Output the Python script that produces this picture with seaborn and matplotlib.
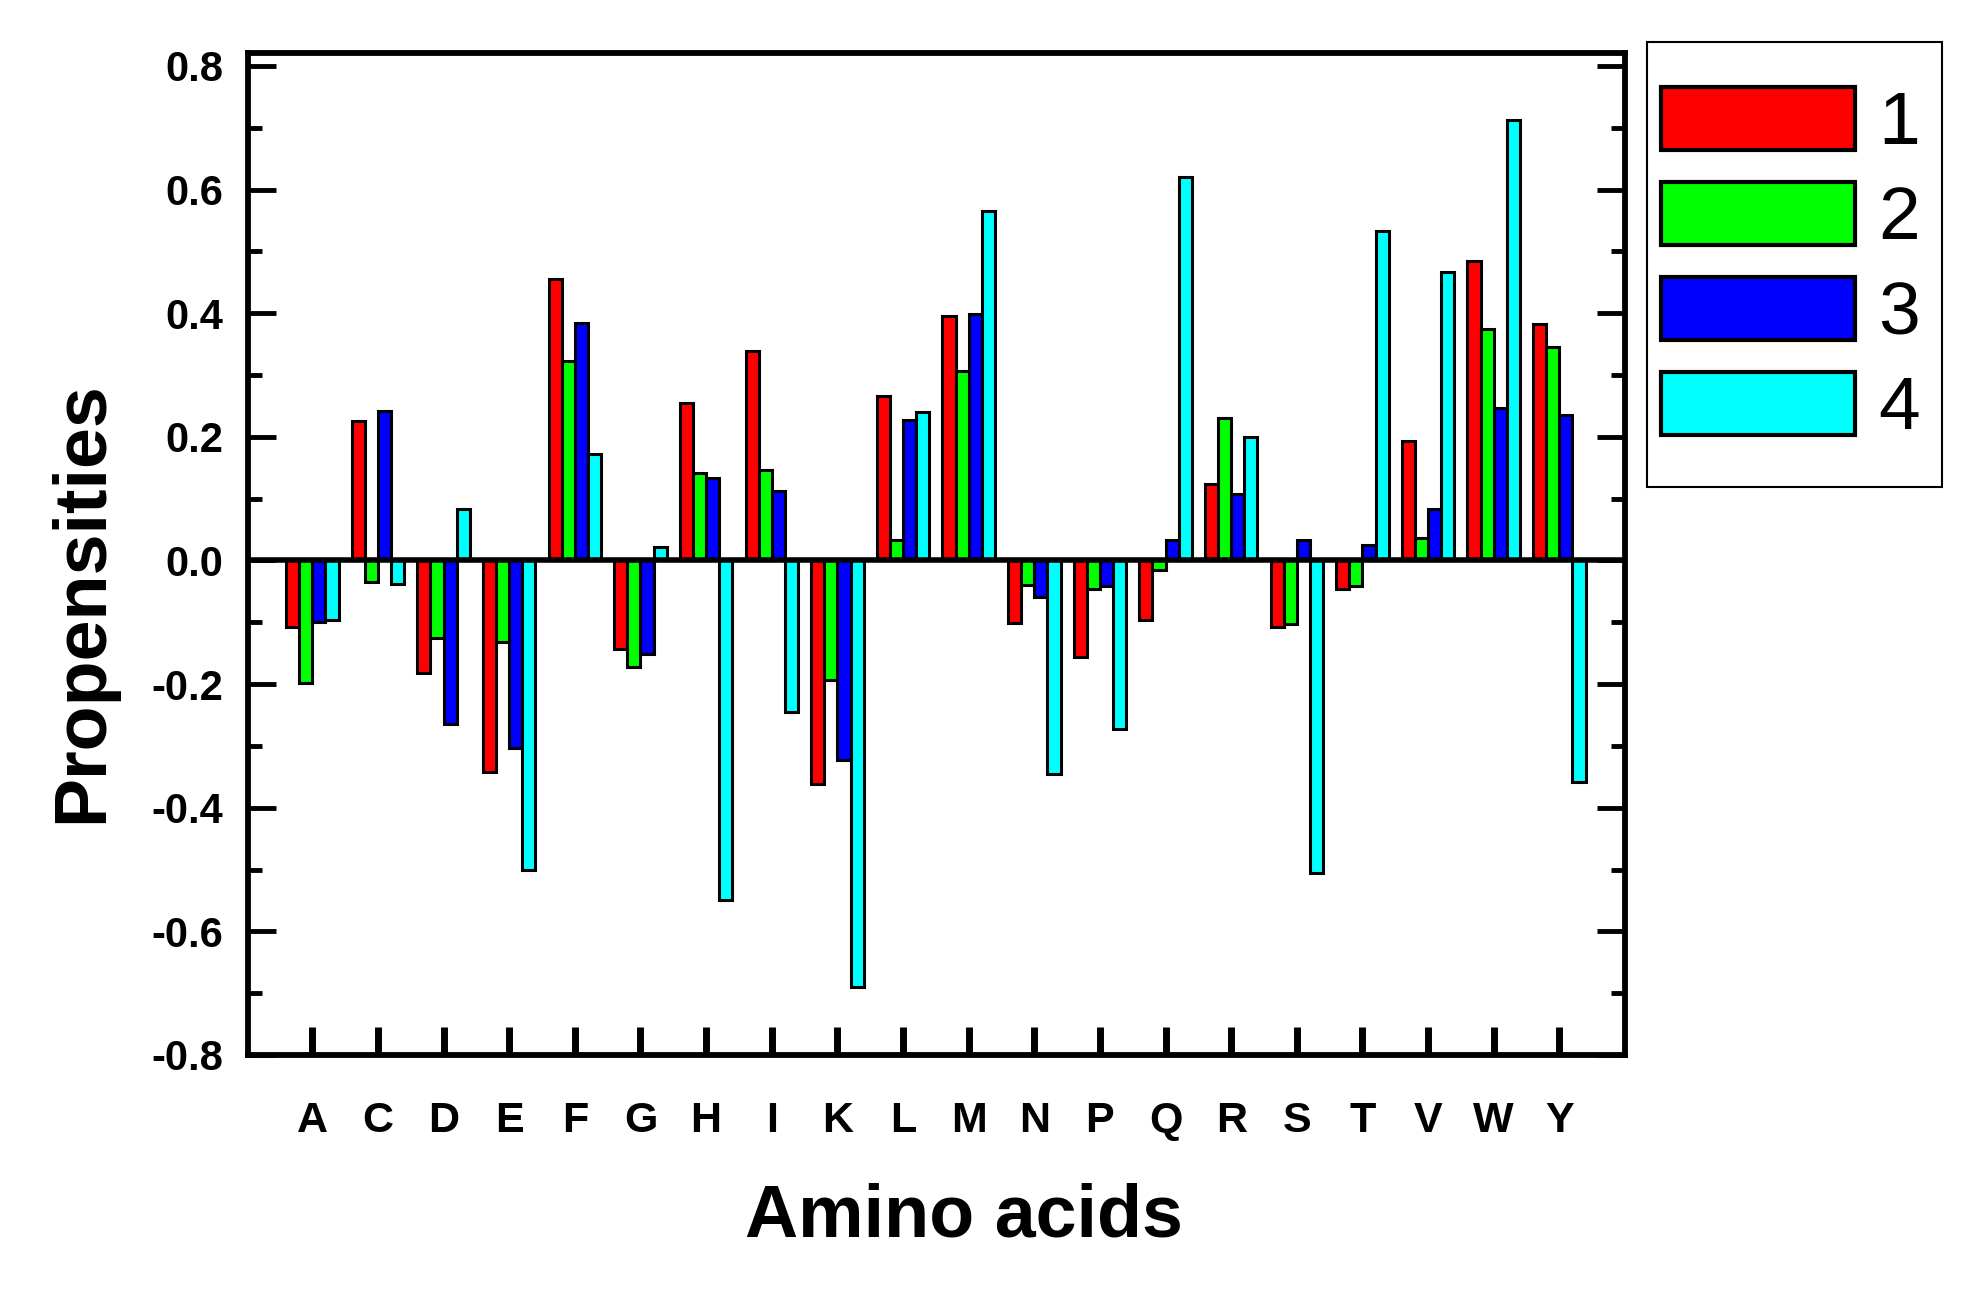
import numpy as np
import pandas as pd
import matplotlib
matplotlib.use("Agg")
import matplotlib.pyplot as plt
from matplotlib.patches import Rectangle
from matplotlib.ticker import MultipleLocator
import seaborn as sns

amino_acids = ["A", "C", "D", "E", "F", "G", "H", "I", "K", "L",
               "M", "N", "P", "Q", "R", "S", "T", "V", "W", "Y"]
series_names = ["1", "2", "3", "4"]
series1 = [-0.108, 0.226, -0.182, -0.342, 0.455, -0.143, 0.255, 0.339, -0.362, 0.266,
           0.395, -0.101, -0.156, -0.096, 0.124, -0.108, -0.046, 0.193, 0.484, 0.383]
series2 = [-0.199, -0.034, -0.125, -0.132, 0.323, -0.173, 0.142, 0.147, -0.194, 0.033,
           0.307, -0.040, -0.046, -0.016, 0.230, -0.103, -0.041, 0.037, 0.374, 0.345]
series3 = [-0.100, 0.242, -0.264, -0.303, 0.385, -0.152, 0.134, 0.113, -0.323, 0.228,
           0.398, -0.059, -0.041, 0.033, 0.108, 0.033, 0.025, 0.084, 0.247, 0.235]
series4 = [-0.096, -0.038, 0.083, -0.500, 0.172, 0.022, -0.550, -0.245, -0.690, 0.241,
           0.565, -0.345, -0.272, 0.621, 0.199, -0.506, 0.533, 0.466, 0.713, -0.358]
colors = ["#FF0000", "#00FF00", "#0000FF", "#00FFFF"]
y_ticks = [-0.8, -0.6, -0.4, -0.2, 0.0, 0.2, 0.4, 0.6, 0.8]
y_tick_labels = ["-0.8", "-0.6", "-0.4", "-0.2", "0.0", "0.2", "0.4", "0.6", "0.8"]
x_title = "Amino acids"
y_title = "Propensities"

plt.rcParams['font.family'] = ['Liberation Sans', 'DejaVu Sans']
plt.rcParams['axes.unicode_minus'] = False

rows = []
for name, vals in zip(series_names, [series1, series2, series3, series4]):
    for aa, v in zip(amino_acids, vals):
        rows.append({"aa": aa, "series": name, "value": v})
df = pd.DataFrame(rows)

W, H = 1977, 1302
fig = plt.figure(figsize=(W / 100, H / 100), dpi=100)
left, right, top, bottom = 248, 1625, 53, 1055
ax = fig.add_axes([left / W, 1 - bottom / H, (right - left) / W, (bottom - top) / H])

sns.barplot(data=df, x="aa", y="value", hue="series", order=amino_acids,
            hue_order=series_names, palette=colors, saturation=1, width=0.8,
            edgecolor="black", linewidth=2.2, errorbar=None, ax=ax)

ax.axhline(0, color="black", lw=4, zorder=5)
ax.set_xlim(-0.98, 20)
ax.set_ylim(-0.8, 0.821)

for s in ax.spines.values():
    s.set_linewidth(4.2)
    s.set_color("black")

ax.set_yticks(y_ticks)
ax.set_yticklabels(y_tick_labels, fontsize=30, fontweight="bold")
ax.yaxis.set_minor_locator(MultipleLocator(0.1))
ax.tick_params(axis="y", which="major", direction="in", length=20, width=3.5,
               left=True, right=True, pad=18)
ax.tick_params(axis="y", which="minor", direction="in", length=10, width=3.5,
               left=True, right=True)
ax.tick_params(axis="x", which="major", direction="in", length=20, width=5,
               bottom=True, top=False, pad=33, labelsize=31)
for lab in ax.get_xticklabels():
    lab.set_fontweight("bold")

ax.set_xlabel(x_title, fontsize=53, fontweight="bold")
ax.set_ylabel(y_title, fontsize=53, fontweight="bold")
ax.xaxis.set_label_coords(0.52, -0.127)
ax.yaxis.set_label_coords(-0.095, 0.452)

handles, labels = ax.get_legend_handles_labels()
if ax.get_legend() is not None:
    ax.get_legend().remove()
leg = fig.legend(handles, labels, loc="upper left",
                 bbox_to_anchor=(1661 / W, 1 - 87 / H), frameon=False,
                 fontsize=54, handlelength=2.59, handleheight=0.92,
                 handletextpad=0.3, labelspacing=0.30, borderpad=0, borderaxespad=0)
for h in leg.legend_handles:
    h.set_edgecolor("black")
    h.set_linewidth(3)

fig.patches.append(Rectangle((1647 / W, 1 - 487 / H), 295 / W, 445 / H,
                             transform=fig.transFigure, fill=False,
                             lw=1.5, ec="black"))

fig.savefig("out.png", dpi=100, facecolor="white")
